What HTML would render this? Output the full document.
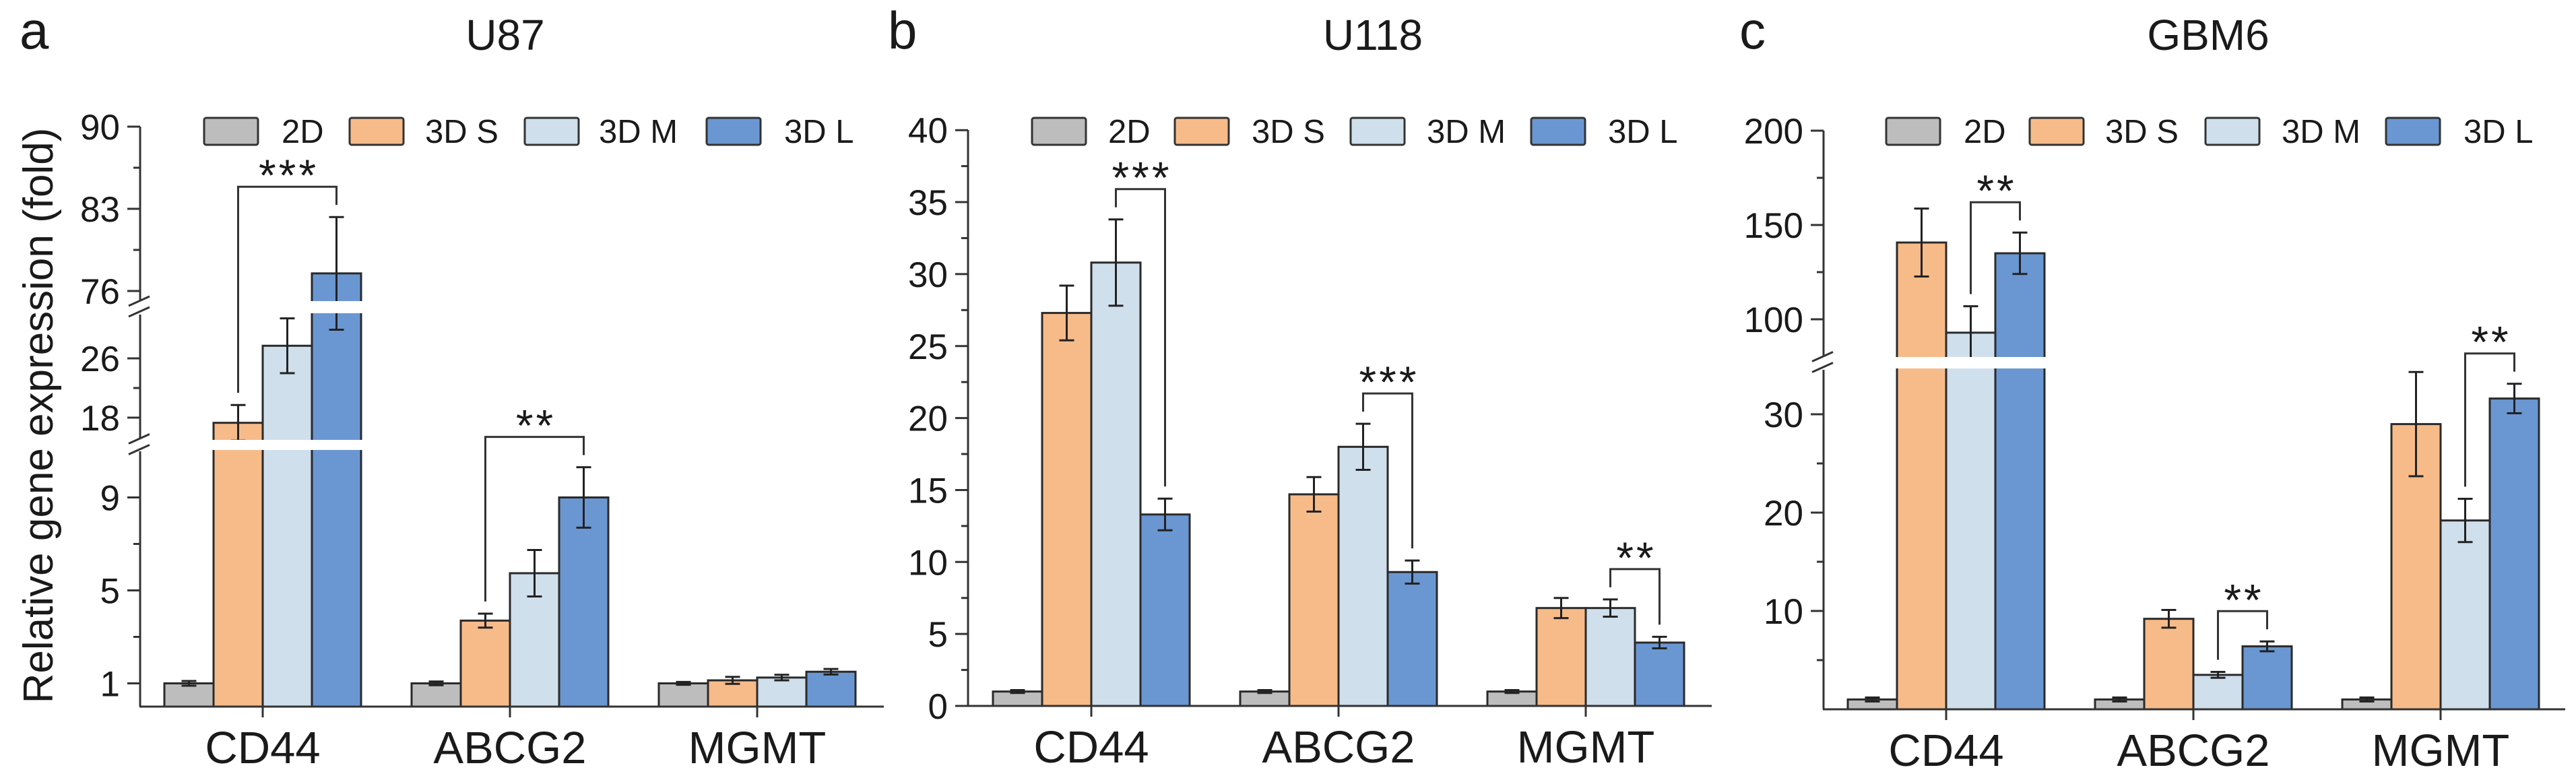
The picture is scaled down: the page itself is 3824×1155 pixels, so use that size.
<!DOCTYPE html>
<html><head><meta charset="utf-8"><style>
html,body{margin:0;padding:0;background:#fff}
svg{display:block}
text{font-family:"Liberation Sans",Arial,sans-serif;fill:#1a1a1a}
</style></head><body>
<svg id="fig" width="3824" height="1155" viewBox="0 0 3824 1155" xmlns="http://www.w3.org/2000/svg"></svg>
<script>
// ---- shared data ----
const groups = ['CD44', 'ABCG2', 'MGMT'];
const seriesNames = ['2D', '3D S', '3D M', '3D L'];
// ---- U87 ----
const u87_2D = [1, 1, 1];
const u87_3DS = [17.3, 3.7, 1.13];
const u87_3DM = [27.7, 5.74, 1.25];
const u87_3DL = [77.5, 9.0, 1.5];
const u87Err_2D = [0.1, 0.08, 0.06];
const u87Err_3DS = [2.4, 0.3, 0.15];
const u87Err_3DM = [3.7, 1.0, 0.12];
const u87Err_3DL = [4.8, 1.3, 0.12];
const u87Ticks = [1, 5, 9, 18, 26, 76, 83, 90];
const u87Minor = [3, 7, 22, 79.5, 86.5];
const u87Sig = [[0, 1, 3, '***'], [1, 1, 3, '**']];
// ---- U118 ----
const u118_2D = [1, 1, 1];
const u118_3DS = [27.3, 14.7, 6.8];
const u118_3DM = [30.8, 18.0, 6.8];
const u118_3DL = [13.3, 9.3, 4.4];
const u118Err_2D = [0.1, 0.1, 0.1];
const u118Err_3DS = [1.9, 1.2, 0.7];
const u118Err_3DM = [3.0, 1.6, 0.6];
const u118Err_3DL = [1.1, 0.8, 0.4];
const u118Ticks = [0, 5, 10, 15, 20, 25, 30, 35, 40];
const u118Minor = [2.5, 7.5, 12.5, 17.5, 22.5, 27.5, 32.5, 37.5];
const u118Sig = [[0, 2, 3, '***'], [1, 2, 3, '***'], [2, 2, 3, '**']];
// ---- GBM6 ----
const gbm_2D = [1, 1, 1];
const gbm_3DS = [140.7, 9.2, 29.0];
const gbm_3DM = [92.9, 3.5, 19.2];
const gbm_3DL = [135, 6.4, 31.6];
const gbmErr_2D = [0.2, 0.2, 0.2];
const gbmErr_3DS = [18, 0.9, 5.3];
const gbmErr_3DM = [14, 0.3, 2.2];
const gbmErr_3DL = [11, 0.5, 1.5];
const gbmTicks = [10, 20, 30, 100, 150, 200];
const gbmMinor = [5, 15, 25, 125, 175];
const gbmSig = [[0, 2, 3, '**'], [1, 2, 3, '**'], [2, 2, 3, '**']];

const colors = ['#bdbdbd', '#f7bb89', '#cfdfec', '#6a97d2'];
const NS = 'http://www.w3.org/2000/svg';
const svg = document.getElementById('fig');
function mk(tag, attrs, parent) {
  const e = document.createElementNS(NS, tag);
  for (const k in attrs) e.setAttribute(k, attrs[k]);
  (parent || svg).appendChild(e);
  return e;
}

function makeScale(segs) {
  const segOf = v => { for (let i = 0; i < segs.length; i++) if (v <= segs[i][0]) return i; return segs.length - 1; };
  const yIn = (s, v) => segs[s][2] - (v - segs[s][1]) * segs[s][3];
  return { segOf, yIn, y: v => yIn(segOf(v), v) };
}

const panels = [
  { id: 'u87', letter: 'a', title: 'U87', lx: 29, tx: 750, axisX: 208, base: 1049, top: 188, xEnd: 1312, c0: 390,
    vals: [u87_2D, u87_3DS, u87_3DM, u87_3DL], errs: [u87Err_2D, u87Err_3DS, u87Err_3DM, u87Err_3DL],
    ticks: u87Ticks, minor: u87Minor, sig: u87Sig,
    scale: makeScale([[12.5, 0, 1049, 34.5], [40, 18, 620, 11], [1000, 76, 432, 17.43]]),
    bands: [[653, 668], [447, 465]],
    legend: [[303, 418], [519, 631], [779, 889], [1049, 1164]] },
  { id: 'u118', letter: 'b', title: 'U118', lx: 1318, tx: 2038, axisX: 1437, base: 1048, top: 193, xEnd: 2541, c0: 1620,
    vals: [u118_2D, u118_3DS, u118_3DM, u118_3DL], errs: [u118Err_2D, u118Err_3DS, u118Err_3DM, u118Err_3DL],
    ticks: u118Ticks, minor: u118Minor, sig: u118Sig,
    scale: makeScale([[1000, 0, 1048, 21.37]]),
    bands: [],
    legend: [[1532, 1645], [1744, 1858], [2005, 2118], [2273, 2387]] },
  { id: 'gbm6', letter: 'c', title: 'GBM6', lx: 2582, tx: 3278, axisX: 2707, base: 1053, top: 194, xEnd: 3808, c0: 2889,
    vals: [gbm_2D, gbm_3DS, gbm_3DM, gbm_3DL], errs: [gbmErr_2D, gbmErr_3DS, gbmErr_3DM, gbmErr_3DL],
    ticks: gbmTicks, minor: gbmMinor, sig: gbmSig,
    scale: makeScale([[40, 0, 1053, 14.6], [1000, 100, 474, 2.8]]),
    bands: [[530, 547]],
    legend: [[2800, 2915], [3013, 3125], [3274, 3387], [3542, 3657]] }
];

const BW = 73, GS = 367;

panels.forEach(p => {
  const g = mk('g', {});
  
  
  const sc = p.scale;

  const letter = mk('text', { x: p.lx, y: 72, 'font-size': 78 }, g);
  letter.textContent = p.letter;
  
  
  const title = mk('text', { x: p.tx, y: 74, 'font-size': 64, 'text-anchor': 'middle' }, g);
  title.textContent = p.title;
  
  

  const barsG = mk('g', {}, g);
  
  
  const errTop = [];
  groups.forEach((gr, gi) => {
    errTop.push([]);
    const cx = p.c0 + gi * GS;
    p.vals.forEach((arr, si) => {
      const v = arr[gi];
      const x = cx + (si - 2) * BW;
      const yv = sc.y(v);
      const r = mk('rect', { x: x, y: yv, width: BW, height: p.base - yv, fill: colors[si], stroke: '#2a2a2a', 'stroke-width': 3 }, barsG);
      
      
    });
    p.vals.forEach((arr, si) => {
      const v = arr[gi], e = p.errs[si][gi];
      const s = sc.segOf(v);
      const bx = cx + (si - 2) * BW + BW / 2;
      const y1 = sc.yIn(s, v + e), y2 = Math.min(sc.yIn(s, v - e), p.base);
      errTop[gi].push(y1);
      const eg = mk('g', { stroke: '#222', 'stroke-width': 3 }, barsG);
      
      
      mk('line', { x1: bx, x2: bx, y1: y1, y2: y2 }, eg);
      mk('line', { x1: bx - 11, x2: bx + 11, y1: y1, y2: y1 }, eg);
      mk('line', { x1: bx - 11, x2: bx + 11, y1: y2, y2: y2 }, eg);
    });
    p.bands.forEach(b => {
      p.vals.forEach((arr, si) => {
        if (sc.y(arr[gi]) < b[0]) {
          const x = cx + (si - 2) * BW;
          mk('rect', { x: x - 3, y: b[0], width: BW + 6, height: b[1] - b[0], fill: '#fff' }, barsG);
        }
      });
    });
  });

  const ax = mk('g', { stroke: '#333', 'stroke-width': 3, fill: 'none' }, g);
  
  
  let yStart = p.base;
  const sortedBands = p.bands.slice().sort((a, b) => b[0] - a[0]);
  sortedBands.forEach(b => {
    mk('line', { x1: p.axisX, x2: p.axisX, y1: yStart, y2: b[1] + 2 }, ax);
    const cy = (b[0] + b[1]) / 2;
    mk('line', { x1: p.axisX - 17, y1: cy - 2, x2: p.axisX + 14, y2: cy - 16 }, ax);
    mk('line', { x1: p.axisX - 17, y1: cy + 14, x2: p.axisX + 14, y2: cy }, ax);
    yStart = b[0] - 2;
  });
  mk('line', { x1: p.axisX, x2: p.axisX, y1: yStart, y2: p.top }, ax);
  p.ticks.forEach(t => {
    const y = sc.y(t);
    mk('line', { x1: p.axisX - 19, x2: p.axisX, y1: y, y2: y }, ax);
    const tl = mk('text', { x: p.axisX - 30, y: y + 19, 'font-size': 53, 'text-anchor': 'end' }, g);
    tl.textContent = t;
    
    
  });
  p.minor.forEach(t => {
    const y = sc.y(t);
    mk('line', { x1: p.axisX - 10, x2: p.axisX, y1: y, y2: y }, ax);
  });
  const xa = mk('g', { stroke: '#333', 'stroke-width': 3 }, g);
  
  
  mk('line', { x1: p.axisX - 1, x2: p.xEnd, y1: p.base, y2: p.base }, xa);
  groups.forEach((gr, gi) => {
    const cx = p.c0 + gi * GS;
    mk('line', { x1: cx, x2: cx, y1: p.base, y2: p.base + 16 }, xa);
    const xl = mk('text', { x: cx, y: p.base + 84, 'font-size': 67, 'text-anchor': 'middle' }, g);
    xl.textContent = gr;
    
    
  });

  p.sig.forEach(sg => {
    const [gi, a, b, lab] = sg;
    const cx = p.c0 + gi * GS;
    const xa1 = cx + (a - 2) * BW + BW / 2, xb1 = cx + (b - 2) * BW + BW / 2;
    const ta = errTop[gi][a], tb = errTop[gi][b];
    const top = Math.min(ta, tb) - 45;
    const bg = mk('g', {}, g);
    
    
    mk('polyline', { points: `${xa1},${ta - 18} ${xa1},${top} ${xb1},${top} ${xb1},${tb - 18}`, fill: 'none', stroke: '#333', 'stroke-width': 3 }, bg);
    const st = mk('text', { x: (xa1 + xb1) / 2 + 2, y: top + 6, 'font-size': 66, 'text-anchor': 'middle', 'letter-spacing': 4 }, bg);
    st.textContent = lab;
  });

  const lg = mk('g', {}, g);
  
  
  p.legend.forEach((L, si) => {
    const eg = mk('g', {}, lg);
    
    
    mk('rect', { x: L[0], y: 175, width: 80, height: 40, rx: 3, fill: colors[si], stroke: '#333', 'stroke-width': 3 }, eg);
    const t = mk('text', { x: L[1], y: 212, 'font-size': 49 }, eg);
    t.textContent = seriesNames[si];
  });
});

const yt = mk('text', { x: 0, y: 0, 'font-size': 62, 'text-anchor': 'middle', transform: 'translate(78,617) rotate(-90)' });
yt.textContent = 'Relative gene expression (fold)';


</script>
</body></html>
